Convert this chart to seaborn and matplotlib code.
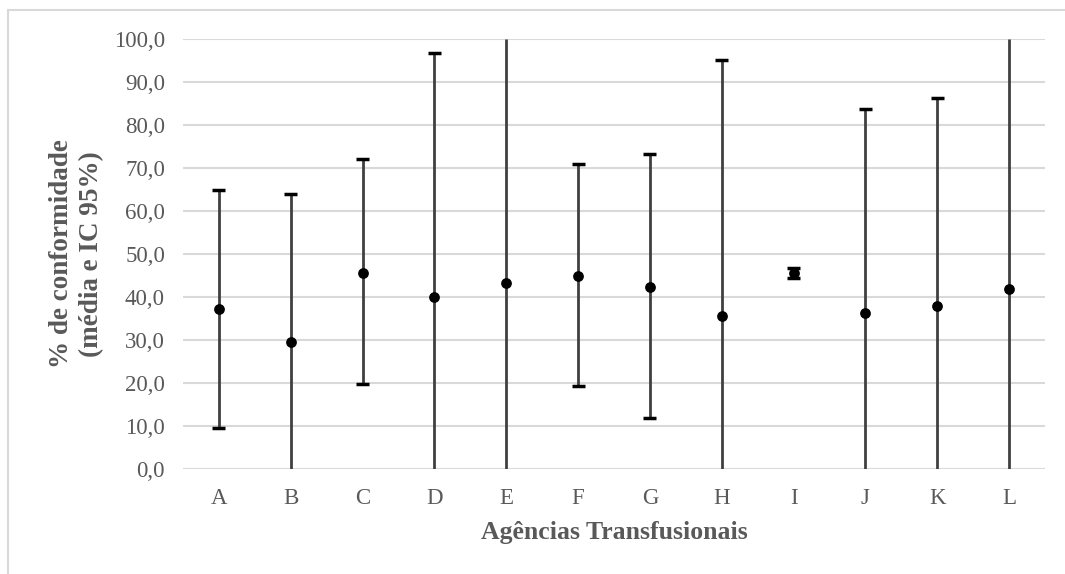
import numpy as np
import pandas as pd
import matplotlib
matplotlib.use("Agg")
import matplotlib.pyplot as plt
import seaborn as sns
from matplotlib.lines import Line2D

agencias = ["A", "B", "C", "D", "E", "F", "G", "H", "I", "J", "K", "L"]
media = [37.1, 29.5, 45.6, 40.0, 43.3, 44.8, 42.4, 35.6, 45.6, 36.2, 38.0, 41.8]
ic_inf = [9.5, 0.0, 19.8, 0.0, 0.0, 19.2, 11.9, 0.0, 44.5, 0.0, 0.0, 0.0]
ic_sup = [64.9, 64.0, 72.0, 96.8, 100.0, 70.9, 73.2, 95.1, 46.7, 83.8, 86.2, 100.0]
yticks = [0, 10, 20, 30, 40, 50, 60, 70, 80, 90, 100]

df = pd.DataFrame({"ag": agencias, "media": media, "lo": ic_inf, "hi": ic_sup})

sns.set_theme(style="white")
plt.rcParams["font.family"] = ["Liberation Serif", "DejaVu Serif"]

fig = plt.figure(figsize=(10.65, 5.74), dpi=100)
ax = fig.add_axes([183/1065, 1-469/574, (1045-183)/1065, (469-39)/574])

ax.set_xlim(-0.5, len(agencias) - 0.5)
ax.set_ylim(0, 100)
x = np.arange(len(agencias))

# error bars
ax.vlines(x, df["lo"], df["hi"], color="#404040", lw=2, zorder=3)
cap_w = 0.09
for xi, lo, hi in zip(x, df["lo"], df["hi"]):
    if 0 < lo < 100:
        ax.hlines(lo, xi - cap_w, xi + cap_w, color="black", lw=2.5, zorder=4)
    if 0 < hi < 100:
        ax.hlines(hi, xi - cap_w, xi + cap_w, color="black", lw=2.5, zorder=4)

sns.scatterplot(x=x, y=df["media"], ax=ax, color="black", s=60,
                edgecolor="black", linewidth=0, zorder=5, legend=False)

ax.set_yticks(yticks)
ax.set_yticklabels([f"{v:.1f}".replace(".", ",") for v in yticks])
ax.set_xticks(x)
ax.set_xticklabels(agencias)
ax.grid(axis="y", color="#d9d9d9", lw=1.5, zorder=0)
ax.set_axisbelow(True)
for s in ax.spines.values():
    s.set_visible(False)
ax.tick_params(axis="both", length=0, labelsize=16.5, colors="#595959")
ax.tick_params(axis="y", pad=13)
ax.tick_params(axis="x", pad=14)

ax.set_xlabel("Agências Transfusionais", fontsize=18.5, fontweight="bold",
              color="#595959", labelpad=8)
ax.set_ylabel("% de conformidade\n(média e IC 95%)", fontsize=19.5,
              fontweight="bold", color="#595959", labelpad=7, linespacing=1.25)

# outer chart frame (left and top)
fig.add_artist(Line2D([8/1065, 8/1065], [0, 1-10/574], transform=fig.transFigure,
                      color="#d9d9d9", lw=1.5))
fig.add_artist(Line2D([8/1065, 1], [1-10/574, 1-10/574], transform=fig.transFigure,
                      color="#d9d9d9", lw=1.5))

fig.savefig("out.png", dpi=100)
